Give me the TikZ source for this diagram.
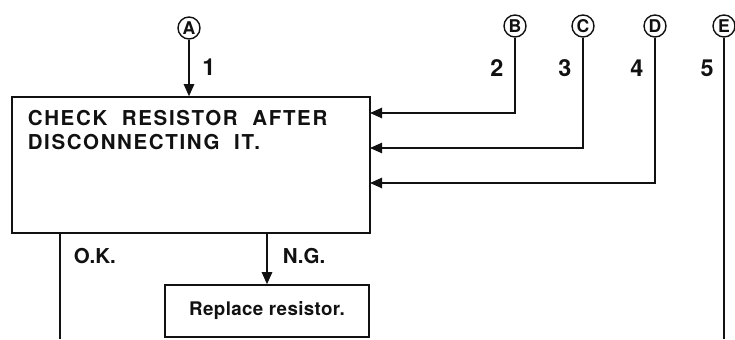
\documentclass[tikz,border=0pt]{standalone}
\usepackage{fontspec}
\setmainfont{TeX Gyre Heros}
\newfontfamily\boxfont[LetterSpace=8,WordSpace=2.0]{TeX Gyre Heros}
\newfontfamily\smallboxfont[LetterSpace=2]{TeX Gyre Heros}
\usetikzlibrary{arrows.meta,positioning}
\definecolor{ink}{HTML}{111111}

\begin{document}
\begin{tikzpicture}[x=0.3mm,y=-0.3mm,line width=1.3pt,
  conn/.style={draw=ink},
  arr/.style={draw=ink,-{Triangle[length=3.6mm,width=3.1mm]}},
  ptcirc/.style={circle,draw=ink,line width=1.2pt,inner sep=0pt,minimum size=6.6mm,text=ink,font=\bfseries\fontsize{15}{15}\selectfont},
  stepno/.style={text=ink,font=\bfseries\fontsize{20}{20}\selectfont},
  flowbox/.style={draw=ink,rectangle,inner sep=0pt},
  flowtext/.style={text=ink,inner sep=0pt,font=\boxfont\bfseries\fontsize{17.5}{20.4}\selectfont},
  branchtext/.style={text=ink,inner sep=0pt,font=\bfseries\fontsize{17.5}{17.5}\selectfont}]
\useasboundingbox (0,0) rectangle (735,339);
\node[ptcirc] (circA) at (189,28) {A};
\node[ptcirc] (circB) at (515,26) {B};
\node[ptcirc] (circC) at (583,26) {C};
\node[ptcirc] (circD) at (655,26) {D};
\node[ptcirc] (circE) at (724,26) {E};
\node[stepno] (no1) at (209,67) {1};
\node[stepno] (no2) at (497,68) {2};
\node[stepno] (no3) at (565,68) {3};
\node[stepno] (no4) at (637,68) {4};
\node[stepno] (no5) at (707,68) {5};
\node[flowbox,minimum width=107.4mm,minimum height=40.8mm] (check) at (191,165) {};
\node[flowtext,anchor=north west,align=left] (checktxt) at (27,110) {CHECK RESISTOR AFTER\\DISCONNECTING IT.};
\node[flowbox,minimum width=61.2mm,minimum height=15.6mm,text=ink,font=\smallboxfont\bfseries\fontsize{16}{16}\selectfont] (replace) at (267,311) {Replace resistor.};
\node[branchtext,anchor=west] (ok) at (73,256) {O.K.};
\node[branchtext,anchor=west] (ng) at (282,256) {N.G.};
\coordinate (inB) at (370,113);
\coordinate (inC) at (370,148);
\coordinate (inD) at (370,183);
\coordinate (endE) at (724,339);
\coordinate (okEnd) at (60,339);
\draw[arr] (circA) -- (circA |- check.north);
\draw[arr] (circB) |- (inB);
\draw[arr] (circC) |- (inC);
\draw[arr] (circD) |- (inD);
\draw[conn] (circE) -- (endE);
\draw[conn] (check.south -| okEnd) -- (okEnd);
\draw[arr] (replace.north |- check.south) -- (replace.north);
\end{tikzpicture}
\end{document}
